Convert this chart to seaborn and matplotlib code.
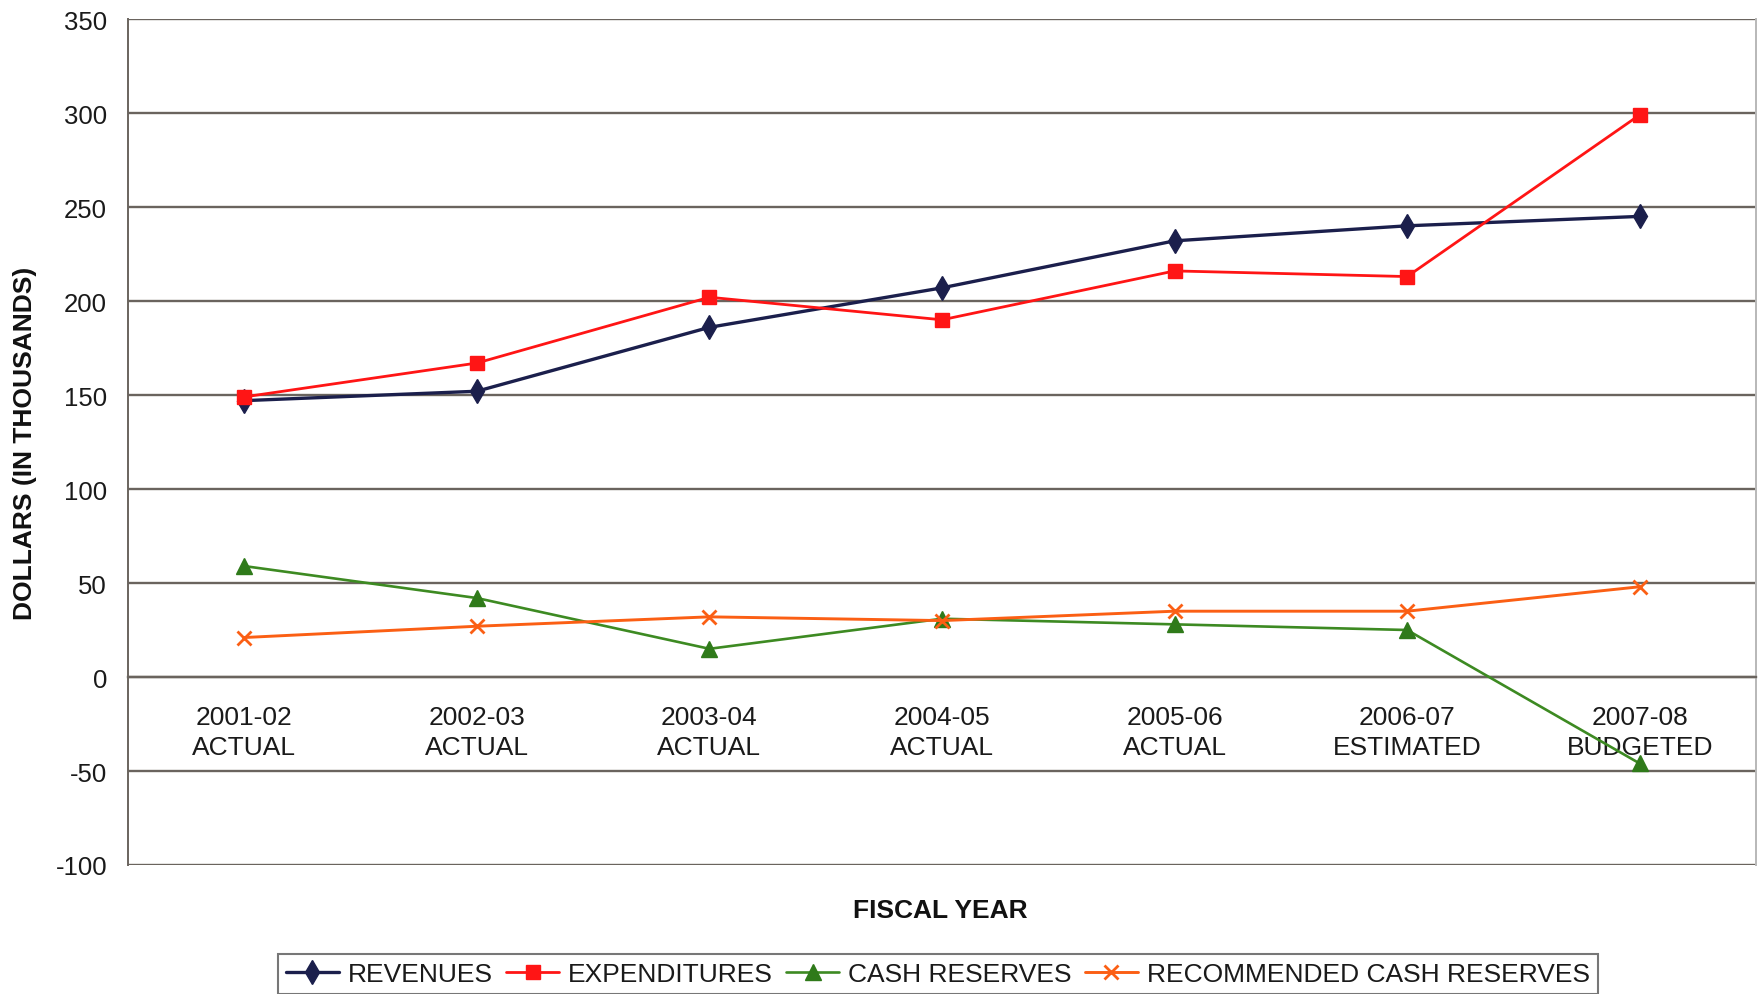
import matplotlib
matplotlib.use("Agg")
import matplotlib.pyplot as plt
import numpy as np
import pandas as pd
import seaborn as sns

# ---- data (thousands of dollars) ----
years = ["2001-02", "2002-03", "2003-04", "2004-05", "2005-06", "2006-07", "2007-08"]
status = ["ACTUAL", "ACTUAL", "ACTUAL", "ACTUAL", "ACTUAL", "ESTIMATED", "BUDGETED"]
revenues = [147, 152, 186, 207, 232, 240, 245]
expenditures = [149, 167, 202, 190, 216, 213, 299]
cash_reserves = [59, 42, 15, 31, 28, 25, -46]
recommended_reserves = [21, 27, 32, 30, 35, 35, 48]
y_ticks = [-100, -50, 0, 50, 100, 150, 200, 250, 300, 350]

series_names = ["REVENUES", "EXPENDITURES", "CASH RESERVES", "RECOMMENDED CASH RESERVES"]
series_values = [revenues, expenditures, cash_reserves, recommended_reserves]

rows = []
for name, vals in zip(series_names, series_values):
    for i, v in enumerate(vals):
        rows.append({"series": name, "pos": i, "value": v})
df = pd.DataFrame(rows)

sns.set_style("white")
plt.rcParams["font.family"] = ["Liberation Sans", "DejaVu Sans"]
plt.rcParams["axes.unicode_minus"] = False

styles = {
    "REVENUES": dict(color="#1b1f4c", marker="d", markersize=12, linewidth=2.4,
                     markeredgewidth=1, markeredgecolor="#1b1f4c"),
    "EXPENDITURES": dict(color="#ff1515", marker="s", markersize=10, linewidth=2.0,
                         markeredgewidth=1, markeredgecolor="#ff1515"),
    "CASH RESERVES": dict(color="#3d8a22", marker="^", markersize=11, linewidth=1.9,
                          markeredgewidth=1, markerfacecolor="#2f7a1a",
                          markeredgecolor="#2f7a1a"),
    "RECOMMENDED CASH RESERVES": dict(color="#fb5f14", marker="x", markersize=10,
                                      linewidth=2.1, markeredgewidth=2,
                                      markeredgecolor="#fb5f14"),
}

W, H = 1759, 995
fig = plt.figure(figsize=(W / 100, H / 100), dpi=100)
left, right, top, bottom = 128, 1756, 20, 866
ax = fig.add_axes([left / W, 1 - bottom / H, (right - left) / W, (bottom - top) / H])

grid_col = "#6a645e"
for yv in y_ticks:
    ax.axhline(yv, color=grid_col, lw=1.7, zorder=1)

for name in series_names:
    sub = df[df["series"] == name]
    sns.lineplot(data=sub, x="pos", y="value", ax=ax, sort=False, errorbar=None,
                 label=name, zorder=3, **styles[name])

ax.set_xlim(-0.5, len(years) - 0.5)
ax.set_ylim(-100, 350)
ax.set_yticks(y_ticks)
ax.set_xlabel("")
ax.set_ylabel("")

# category axis crosses at zero
ax.spines["bottom"].set_position(("data", 0))
ax.spines["bottom"].set_color(grid_col)
ax.spines["bottom"].set_linewidth(1.7)
ax.spines["top"].set_visible(False)
ax.spines["left"].set_color(grid_col)
ax.spines["left"].set_linewidth(1.4)
ax.spines["right"].set_color("#b8b8b8")
ax.spines["right"].set_linewidth(1.4)

boundaries = np.arange(len(years) + 1) - 0.5
ax.set_xticks(boundaries)
ax.set_xticklabels([])
ax.set_xticks(np.arange(len(years)), minor=True)
ax.set_xticklabels([f"{y}\n{s}" for y, s in zip(years, status)], minor=True,
                   linespacing=1.35)
ax.tick_params(axis="x", which="major", direction="out", length=6, width=1.3,
               color=grid_col)
ax.tick_params(axis="x", which="minor", length=0, pad=20, labelsize=19,
               labelcolor="#1a1a1a")
ax.tick_params(axis="y", direction="out", length=6, width=1.3, color=grid_col,
               pad=9, labelsize=18.5, labelcolor="#1a1a1a")

fig.text(940 / W, 1 - 911 / H, "FISCAL YEAR", ha="center", va="center",
         fontsize=19, fontweight="bold", color="#111111")
fig.text(25 / W, 1 - 443 / H, "DOLLARS (IN THOUSANDS)", ha="center", va="center",
         rotation=90, fontsize=19, fontweight="bold", color="#111111")

handles, labels = ax.get_legend_handles_labels()
leg = ax.legend(handles, labels, loc="upper center", ncol=4,
                bbox_to_anchor=(938 / W, 1 - 955 / H), bbox_transform=fig.transFigure,
                fontsize=19, frameon=True, fancybox=False, edgecolor="#555555",
                handlelength=2.0, handletextpad=0.35, columnspacing=0.5,
                borderpad=0.3, borderaxespad=0)
leg.get_frame().set_linewidth(1.5)
for t in leg.get_texts():
    t.set_color("#1a1a1a")

fig.savefig("out.png", dpi=100, facecolor="white")
